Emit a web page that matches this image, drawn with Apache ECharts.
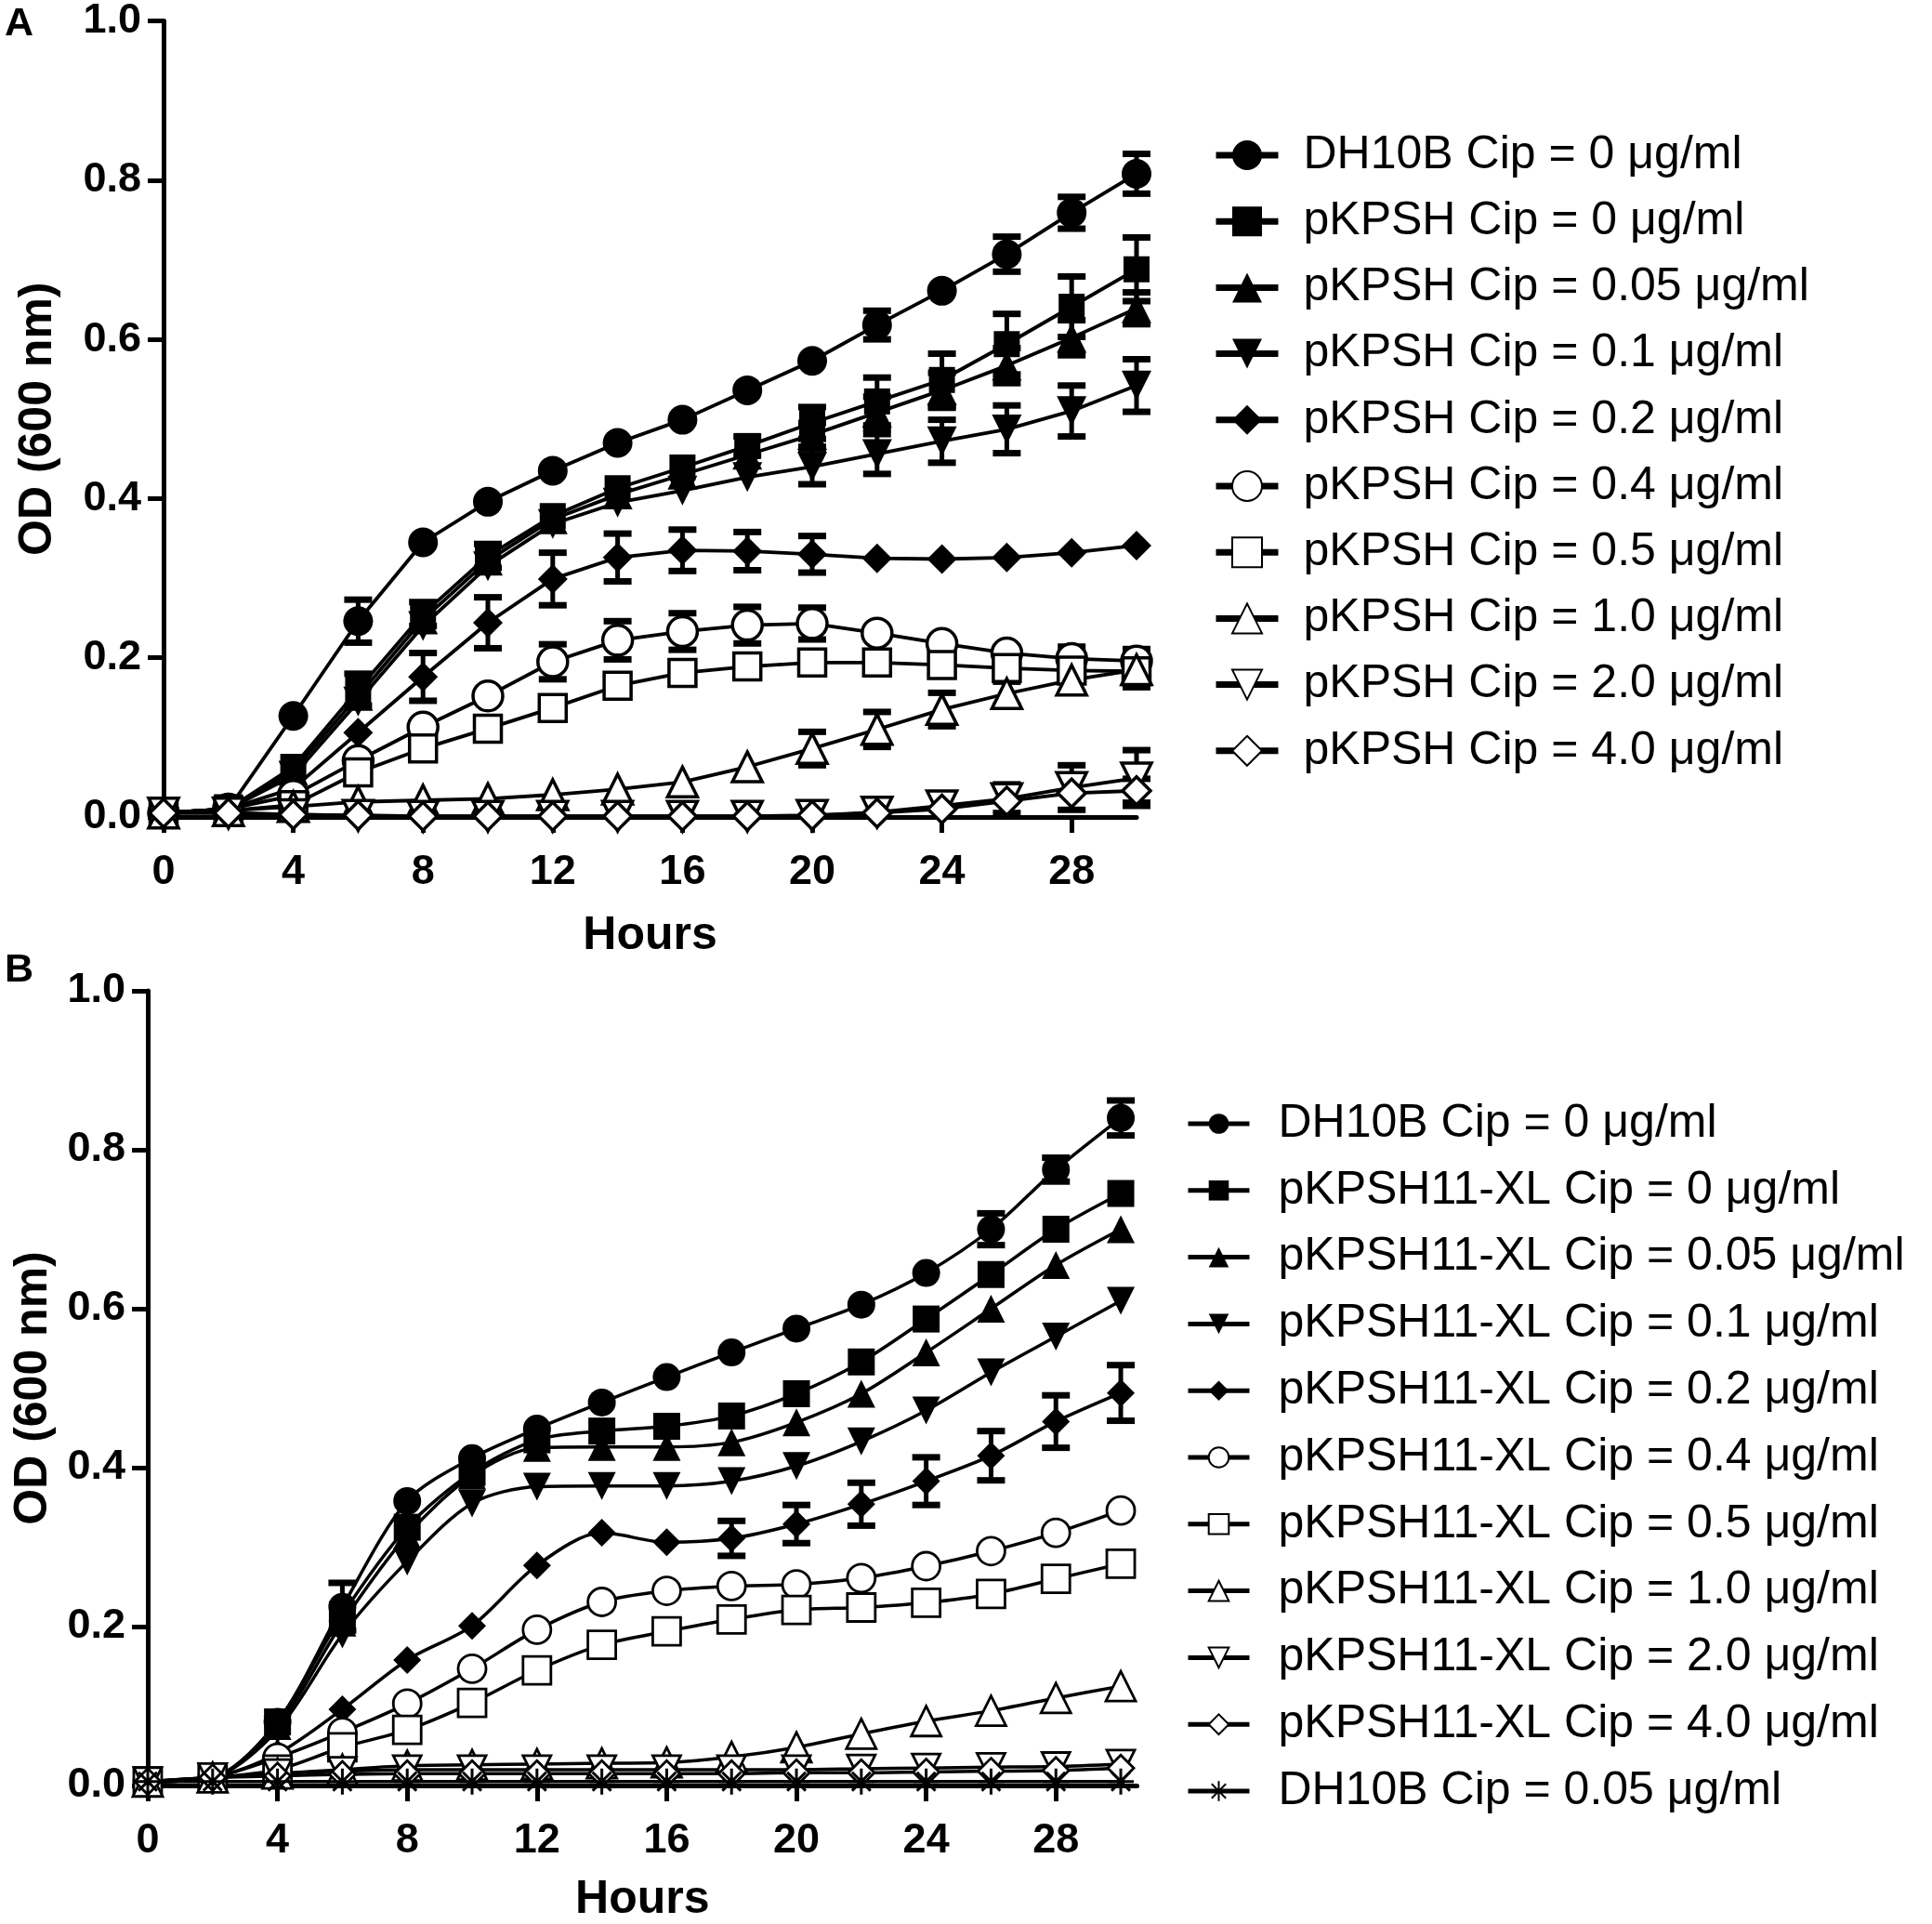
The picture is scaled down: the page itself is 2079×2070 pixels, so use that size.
<!DOCTYPE html>
<html>
<head>
<meta charset="utf-8">
<script src="https://cdn.jsdelivr.net/npm/echarts@6/dist/echarts.min.js"></script>
<style>html,body{margin:0;padding:0;background:#fff}#c{width:2079px;height:2070px}</style>
</head>
<body>
<div id="c"></div>
<script>
// ---------- data ----------
const hours = [0,2,4,6,8,10,12,14,16,18,20,22,24,26,28,30];
const xTicks = [0,4,8,12,16,20,24,28];
const panelLabels = ['A','B'];

// Panel A names
const namesA = ['DH10B Cip = 0 μg/ml','pKPSH Cip = 0 μg/ml','pKPSH Cip = 0.05 μg/ml','pKPSH Cip = 0.1 μg/ml','pKPSH Cip = 0.2 μg/ml','pKPSH Cip = 0.4 μg/ml','pKPSH Cip = 0.5 μg/ml','pKPSH Cip = 1.0 μg/ml','pKPSH Cip = 2.0 μg/ml','pKPSH Cip = 4.0 μg/ml'];
// Panel A values
const aDH0   = [0.005,0.01,0.127,0.246,0.345,0.396,0.435,0.470,0.499,0.536,0.573,0.618,0.661,0.707,0.759,0.808];
const aPK0   = [0.005,0.01,0.063,0.160,0.255,0.328,0.378,0.413,0.439,0.466,0.495,0.522,0.549,0.594,0.641,0.688];
const aPK005 = [0.005,0.01,0.058,0.152,0.248,0.322,0.374,0.405,0.430,0.455,0.480,0.508,0.536,0.567,0.602,0.639];
const aPK01  = [0.005,0.01,0.052,0.145,0.240,0.315,0.368,0.395,0.410,0.427,0.440,0.456,0.472,0.487,0.510,0.542];
const aPK02  = [0.005,0.01,0.036,0.106,0.176,0.244,0.299,0.326,0.335,0.334,0.330,0.325,0.324,0.326,0.332,0.341];
const aPK04  = [0.005,0.01,0.027,0.071,0.113,0.152,0.195,0.222,0.233,0.241,0.243,0.231,0.218,0.206,0.199,0.196];
const aPK05  = [0.005,0.008,0.015,0.056,0.086,0.111,0.137,0.165,0.181,0.189,0.194,0.194,0.191,0.187,0.184,0.183];
const aPK1   = [0.005,0.008,0.013,0.019,0.021,0.023,0.028,0.035,0.044,0.063,0.086,0.110,0.135,0.155,0.172,0.185];
const aPK2   = [0.005,0.005,0.003,0.002,0.001,0.001,0.001,0.001,0.001,0.001,0.002,0.006,0.014,0.023,0.037,0.049];
const aPK4   = [0.005,0.005,0.003,0.002,0.001,0.001,0.001,0.001,0.001,0.001,0.002,0.005,0.010,0.020,0.030,0.033];
// Panel A error bars (SD)
const eDH0   = [0,0,0,0.027,0,0,0,0,0,0,0,0.018,0,0.022,0.020,0.025];
const ePK0   = [0,0,0,0.020,0.015,0.015,0,0,0,0.012,0.020,0.030,0.033,0.038,0.038,0.040];
const ePK005 = [0,0,0,0,0,0,0,0,0,0,0.015,0.020,0.022,0.022,0.022,0.020];
const ePK01  = [0,0,0,0,0,0,0,0,0,0,0.022,0.025,0.027,0.030,0.032,0.033];
const ePK02  = [0,0,0,0,0.030,0.032,0.033,0.030,0.026,0.024,0.023,0,0,0,0,0];
const ePK04  = [0,0,0,0,0,0,0.022,0.024,0.023,0.023,0.020,0,0,0,0.015,0.015];
const ePK05  = [0,0,0,0,0,0,0,0,0,0,0,0,0,0,0.012,0.020];
const ePK1   = [0,0,0,0,0,0,0,0,0,0,0.021,0.022,0.021,0.015,0.015,0.010];
const ePK2   = [0,0,0,0,0,0,0,0,0,0,0,0,0,0.018,0.028,0.035];
const ePK4   = [0,0,0,0,0,0,0,0,0,0,0,0,0,0,0,0.015];

// Panel B names
const namesB = ['DH10B Cip = 0 μg/ml','pKPSH11-XL Cip = 0 μg/ml','pKPSH11-XL Cip = 0.05 μg/ml','pKPSH11-XL Cip = 0.1 μg/ml','pKPSH11-XL Cip = 0.2 μg/ml','pKPSH11-XL Cip = 0.4 μg/ml','pKPSH11-XL Cip = 0.5 μg/ml','pKPSH11-XL Cip = 1.0 μg/ml','pKPSH11-XL Cip = 2.0 μg/ml','pKPSH11-XL Cip = 4.0 μg/ml','DH10B Cip = 0.05 μg/ml'];
// Panel B values
const bDH0   = [0.005,0.01,0.080,0.225,0.358,0.412,0.449,0.482,0.514,0.545,0.575,0.605,0.645,0.700,0.775,0.840];
const bXL0   = [0.005,0.01,0.080,0.215,0.325,0.394,0.435,0.446,0.452,0.465,0.493,0.533,0.587,0.643,0.700,0.745];
const bXL005 = [0.005,0.01,0.075,0.205,0.315,0.390,0.425,0.426,0.426,0.432,0.457,0.493,0.545,0.600,0.655,0.700];
const bXL01  = [0.005,0.01,0.070,0.190,0.282,0.355,0.376,0.377,0.377,0.383,0.402,0.433,0.472,0.520,0.565,0.610];
const bXL02  = [0.005,0.01,0.040,0.096,0.158,0.201,0.277,0.318,0.306,0.311,0.329,0.354,0.383,0.415,0.458,0.494];
const bXL04  = [0.005,0.01,0.035,0.067,0.103,0.147,0.196,0.231,0.245,0.251,0.253,0.261,0.276,0.295,0.318,0.346];
const bXL05  = [0.005,0.01,0.020,0.048,0.070,0.104,0.145,0.177,0.194,0.209,0.221,0.224,0.230,0.241,0.260,0.279];
const bXL1   = [0.005,0.01,0.015,0.020,0.025,0.026,0.027,0.028,0.029,0.036,0.048,0.065,0.081,0.094,0.110,0.125];
const bXL2   = [0.005,0.01,0.015,0.018,0.020,0.020,0.020,0.020,0.020,0.020,0.020,0.021,0.022,0.023,0.024,0.027];
const bXL4   = [0.005,0.01,0.012,0.014,0.015,0.015,0.015,0.015,0.015,0.015,0.016,0.016,0.017,0.018,0.019,0.022];
const bDH005 = [0.005,0.005,0.005,0.005,0.005,0.005,0.005,0.005,0.005,0.005,0.005,0.005,0.005,0.005,0.005,0.005];
// Panel B error bars
const fDH0   = [0,0,0,0.030,0,0,0,0,0,0,0,0,0,0.020,0.015,0.022];
const fXL02  = [0,0,0,0,0,0,0,0,0,0.022,0.024,0.027,0.030,0.031,0.033,0.035];
const fZero  = [0,0,0,0,0,0,0,0,0,0,0,0,0,0,0,0];

// ---------- styles ----------
const FONT = '"Liberation Sans", Arial, sans-serif';
const DTRI = 'path://M0,0L20,0L10,17.32Z';
const STAR = 'path://M10,0L10,20M0,10L20,10M2.9,2.9L17.1,17.1M17.1,2.9L2.9,17.1';
const styleA = [
  ['circle',32,false],['rect',28,false],['triangle',32,false],[DTRI,32,false],['diamond',32,false],
  ['circle',32,true],['rect',29,true],['triangle',32,true],[DTRI,32,true],['diamond',30,true]
];
const styleB = [
  ['circle',30,false],['rect',29,false],['triangle',30,false],[DTRI,30,false],['diamond',30,false],
  ['circle',30,true],['rect',30,true],['triangle',32,true],[DTRI,30,true],['diamond',28,true],[STAR,28,'star']
];
const valsA = [aDH0,aPK0,aPK005,aPK01,aPK02,aPK04,aPK05,aPK1,aPK2,aPK4];
const errsA = [eDH0,ePK0,ePK005,ePK01,ePK02,ePK04,ePK05,ePK1,ePK2,ePK4];
const valsB = [bDH0,bXL0,bXL005,bXL01,bXL02,bXL04,bXL05,bXL1,bXL2,bXL4,bDH005];
const errsB = [fDH0,fZero,fZero,fZero,fXL02,fZero,fZero,fZero,fZero,fZero,fZero];

function lineSeries(name, vals, st, gi, lw, bw, smooth) {
  const open = st[2] === true, star = st[2] === 'star';
  return {
    type: 'line', name: name, xAxisIndex: gi, yAxisIndex: gi,
    data: hours.map((h, i) => [h, vals[i]]),
    symbol: st[0], symbolSize: st[1], showAllSymbol: true, clip: false,
    smooth: smooth, animation: false, z: 3,
    lineStyle: { color: '#000', width: lw },
    itemStyle: open ? { color: '#fff', borderColor: '#000', borderWidth: bw }
             : star ? { color: '#000', borderColor: '#000', borderWidth: 3 }
             : { color: '#000', borderColor: '#000', borderWidth: 0 },
    emphasis: { disabled: true }
  };
}
function errSeries(vals, errs, gi, cap) {
  const data = [];
  hours.forEach((h, i) => { if (errs[i] > 0) data.push([h, vals[i], errs[i]]); });
  return {
    type: 'custom', xAxisIndex: gi, yAxisIndex: gi, data: data, z: 2, silent: true, animation: false, clip: false,
    renderItem: function (params, api) {
      const x = api.value(0), y = api.value(1), e = api.value(2);
      const t = api.coord([x, y + e]), b = api.coord([x, y - e]);
      return { type: 'group', children: [
        { type: 'line', shape: { x1: t[0], y1: t[1], x2: b[0], y2: b[1] }, style: { stroke: '#000', lineWidth: 5 } },
        { type: 'line', shape: { x1: t[0] - cap, y1: t[1], x2: t[0] + cap, y2: t[1] }, style: { stroke: '#000', lineWidth: 7 } },
        { type: 'line', shape: { x1: b[0] - cap, y1: b[1], x2: b[0] + cap, y2: b[1] }, style: { stroke: '#000', lineWidth: 7 } }
      ]};
    }
  };
}

function xAx(gi, max, gap) {
  return {
    type: 'value', gridIndex: gi, min: 0, max: max,
    name: 'Hours', nameLocation: 'middle', nameGap: gap,
    nameTextStyle: { fontFamily: FONT, fontWeight: 'bold', fontSize: 50, color: '#000' },
    axisLine: { show: true, onZero: false, lineStyle: { color: '#000', width: 5 } },
    axisTick: { show: true, length: 17, lineStyle: { color: '#000', width: 5 }, customValues: xTicks },
    axisLabel: { customValues: xTicks, fontFamily: FONT, fontWeight: 'bold', fontSize: 45, color: '#000', margin: 37 },
    splitLine: { show: false }
  };
}
function yAx(gi, gap) {
  return {
    type: 'value', gridIndex: gi, min: 0, max: 1, interval: 0.2,
    name: 'OD (600 nm)', nameLocation: 'middle', nameGap: gap, nameRotate: 90,
    nameTextStyle: { fontFamily: FONT, fontWeight: 'bold', fontSize: 50, color: '#000' },
    axisLine: { show: true, onZero: false, lineStyle: { color: '#000', width: 5 } },
    axisTick: { show: true, length: 17, lineStyle: { color: '#000', width: 5 } },
    axisLabel: { formatter: v => v.toFixed(1), fontFamily: FONT, fontWeight: 'bold', fontSize: 45, color: '#000', margin: 24 },
    splitLine: { show: false }
  };
}

const series = [];
valsA.forEach((v, i) => series.push(errSeries(v, errsA[i], 0, 15)));
valsB.forEach((v, i) => series.push(errSeries(v, errsB[i], 1, 15)));
namesA.forEach((n, i) => series.push(lineSeries(n, valsA[i], styleA[i], 0, 3.8, 3.5, false)));
namesB.forEach((n, i) => series.push(lineSeries(n + ' ', valsB[i], styleB[i], 1, 3.5, 2.8, 0.3)));

const option = {
  backgroundColor: '#fff',
  animation: false,
  title: [
    { text: panelLabels[0], left: 5, top: 5, padding: 0, textStyle: { fontFamily: FONT, fontWeight: 'bold', fontSize: 43, lineHeight: 43, color: '#000' } },
    { text: panelLabels[1], left: 5, top: 1023, padding: 0, textStyle: { fontFamily: FONT, fontWeight: 'bold', fontSize: 43, lineHeight: 43, color: '#000' } }
  ],
  grid: [
    { left: 176, top: 22.5, width: 1047, height: 856.5 },
    { left: 159, top: 1066, width: 1064.5, height: 862 }
  ],
  xAxis: [xAx(0, 30, 103), xAx(1, 30.5, 98)],
  yAxis: [yAx(0, 110), yAx(1, 96)],
  legend: [
    { orient: 'vertical', left: 1300, top: 137, itemWidth: 67, itemHeight: 40, itemGap: 21.2,
      selectedMode: false, data: namesA,
      lineStyle: { width: 7 },
      textStyle: { fontFamily: FONT, fontSize: 50, color: '#000', lineHeight: 50, padding: [0, 0, 0, 22] } },
    { orient: 'vertical', left: 1271, top: 1179, itemWidth: 66, itemHeight: 27, itemGap: 21.8,
      selectedMode: false, data: namesB.map(n => n + ' '), formatter: n => n.trim(),
      lineStyle: { width: 5 },
      textStyle: { fontFamily: FONT, fontSize: 50, color: '#000', lineHeight: 50, padding: [0, 0, 0, 26] } }
  ],
  series: series
};
const chart = echarts.init(document.getElementById('c'), null, { renderer: 'canvas' });
chart.setOption(option);
</script>
</body>
</html>
